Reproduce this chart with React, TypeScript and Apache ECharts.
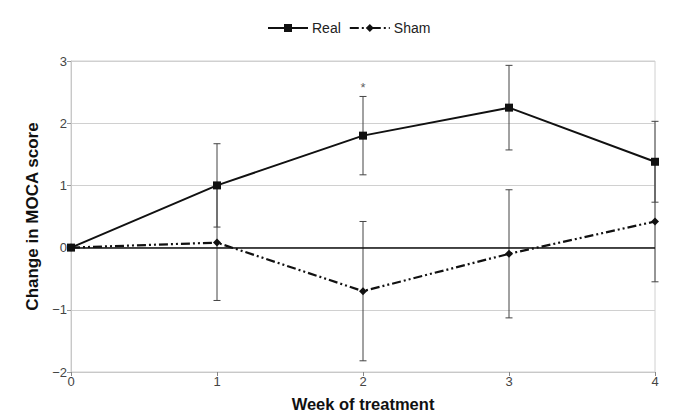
import React, { useEffect, useRef } from "react";
import * as echarts from "echarts";

const weeks = [0, 1, 2, 3, 4];
const realMean = [0, 1.0, 1.8, 2.25, 1.38];
const realErr = [0, 0.67, 0.63, 0.68, 0.65];
const shamMean = [0, 0.08, -0.7, -0.1, 0.42];
const shamErr = [0, 0.93, 1.12, 1.03, 0.97];
const sigWeeks = [2];
const sigLabel = "*";

export default function App() {
  const ref = useRef<HTMLDivElement>(null);
  useEffect(() => {
    const chart = echarts.init(ref.current!, null, { renderer: "svg" });
    const font = "'Liberation Sans', Arial, sans-serif";
    const errData = (m: number[], e: number[]) =>
      weeks.filter((_, i) => e[i] > 0).map((w) => {
        const i = weeks.indexOf(w);
        return [w, m[i] - e[i], m[i] + e[i]];
      });
    const errRender = (params: any, api: any) => {
      const x = api.value(0);
      const lo = api.coord([x, api.value(1)]);
      const hi = api.coord([x, api.value(2)]);
      const cap = 3.5;
      const style = { stroke: "#444", lineWidth: 1 };
      return {
        type: "group",
        children: [
          { type: "line", shape: { x1: lo[0], y1: lo[1], x2: hi[0], y2: hi[1] }, style },
          { type: "line", shape: { x1: lo[0] - cap, y1: lo[1], x2: lo[0] + cap, y2: lo[1] }, style },
          { type: "line", shape: { x1: hi[0] - cap, y1: hi[1], x2: hi[0] + cap, y2: hi[1] }, style },
        ],
      };
    };
    chart.setOption({
      animation: false,
      textStyle: { fontFamily: font },
      legend: {
        top: 16,
        left: 262,
        itemWidth: 40,
        itemHeight: 10,
        itemGap: 8,
        textStyle: { fontSize: 14, color: "#222", fontFamily: font, padding: [0, 0, 0, -1] },
        data: ["Real", "Sham"],
      },
      grid: {
        left: 71,
        right: 26,
        top: 61,
        bottom: 48,
        show: true,
        borderColor: "#d0d0d0",
        borderWidth: 1,
      },
      xAxis: {
        type: "value",
        min: 0,
        max: 4,
        interval: 1,
        name: "Week of treatment",
        nameLocation: "middle",
        nameGap: 23,
        nameTextStyle: { fontSize: 16.5, fontWeight: "bold", color: "#111", fontFamily: font },
        axisLine: { show: true, onZero: false, lineStyle: { color: "#c8c8c8" } },
        axisTick: { show: true, length: 4, lineStyle: { color: "#888" } },
        axisLabel: { fontSize: 13, color: "#444", margin: 3 },
        splitLine: { show: false },
      },
      yAxis: {
        type: "value",
        min: -2,
        max: 3,
        interval: 1,
        name: "Change in MOCA score",
        nameLocation: "middle",
        nameGap: 27,
        nameTextStyle: { fontSize: 17, fontWeight: "bold", color: "#111", fontFamily: font },
        axisLine: { show: true, lineStyle: { color: "#c8c8c8" } },
        axisTick: { show: true, length: 4, lineStyle: { color: "#999" } },
        axisLabel: {
          fontSize: 13,
          color: "#444",
          margin: 4,
          formatter: (v: number) => (v < 0 ? "\u2212" + Math.abs(v) : String(v)),
        },
        splitLine: { show: true, lineStyle: { color: "#d0d0d0", width: 1 } },
      },
      series: [
        {
          name: "RealErr",
          type: "custom",
          renderItem: errRender,
          data: errData(realMean, realErr),
          z: 1,
          silent: true,
        },
        {
          name: "ShamErr",
          type: "custom",
          renderItem: errRender,
          data: errData(shamMean, shamErr),
          z: 1,
          silent: true,
        },
        {
          name: "Real",
          type: "line",
          data: weeks.map((w, i) => [w, realMean[i]]),
          symbol: "rect",
          symbolSize: 8,
          lineStyle: { color: "#111", width: 2 },
          itemStyle: { color: "#111" },
          z: 3,
          markLine: {
            silent: true,
            symbol: "none",
            label: { show: false },
            lineStyle: { color: "#111", width: 1.5, type: "solid" },
            data: [{ yAxis: 0 }],
          },
        },
        {
          name: "Sham",
          type: "line",
          data: weeks.map((w, i) => [w, shamMean[i]]),
          symbol: "diamond",
          symbolSize: 8,
          lineStyle: { color: "#111", width: 2.2, type: [9, 3, 2, 3, 2, 3] },
          itemStyle: { color: "#111" },
          z: 3,
        },
        {
          name: "sig",
          type: "scatter",
          data: sigWeeks.map((w) => {
            const i = weeks.indexOf(w);
            return [w, realMean[i] + realErr[i]];
          }),
          symbolSize: 0,
          label: {
            show: true,
            position: "top",
            distance: 2,
            formatter: sigLabel,
            fontSize: 13,
            color: "#333",
          },
          silent: true,
        },
      ],
    });
    return () => chart.dispose();
  }, []);
  return (
    <div
      ref={ref}
      style={{ position: "fixed", left: 0, top: 0, width: 681, height: 420, background: "#fff" }}
    />
  );
}
